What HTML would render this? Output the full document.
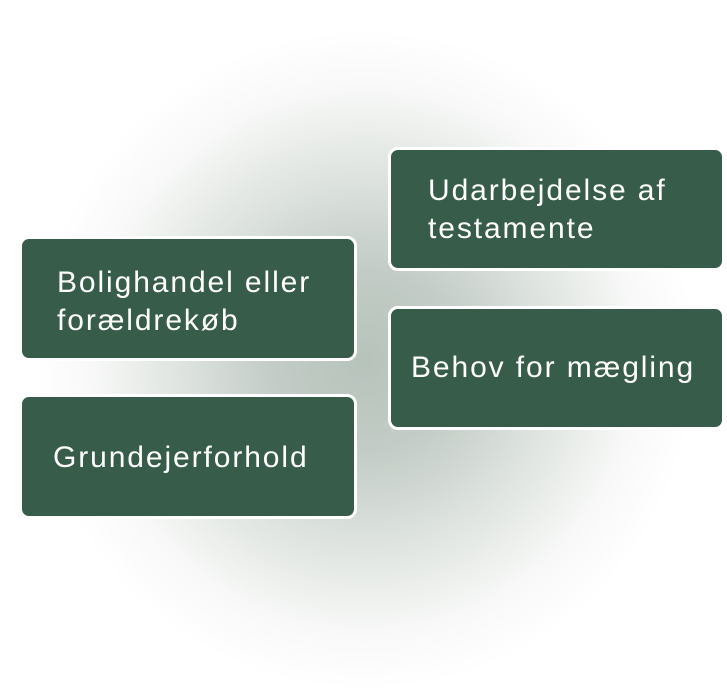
<!DOCTYPE html>
<html><head><style>
body{margin:0;width:727px;height:695px;overflow:hidden;background:#fff;position:relative;font-family:"Liberation Sans",sans-serif;}
.bg{position:absolute;left:0;top:0;width:727px;height:695px;background:radial-gradient(ellipse 330px 330px at 365px 360px,#b6c3bb 0%,#c3ccc6 28%,#e0e5e1 58%,#f7f8f7 82%,#ffffff 100%);}
.b{position:absolute;background:#375c4a;border:3px solid #fff;border-radius:10px;box-sizing:border-box;color:#fff;font-size:30px;line-height:38px;letter-spacing:1.9px;white-space:nowrap;}
.b span{position:absolute;}
</style></head><body>
<div class="bg"></div>
<div class="b" style="left:19px;top:236px;width:338px;height:125px"><span style="left:35px;top:25px">Bolighandel eller<br>forældrekøb</span></div>
<div class="b" style="left:19px;top:394px;width:338px;height:125px"><span style="left:31px;top:42px">Grundejerforhold</span></div>
<div class="b" style="left:388px;top:147px;width:337px;height:124px"><span style="left:37px;top:22px">Udarbejdelse af<br>testamente</span></div>
<div class="b" style="left:388px;top:306px;width:337px;height:124px"><span style="left:20px;top:40px">Behov for mægling</span></div>
</body></html>
